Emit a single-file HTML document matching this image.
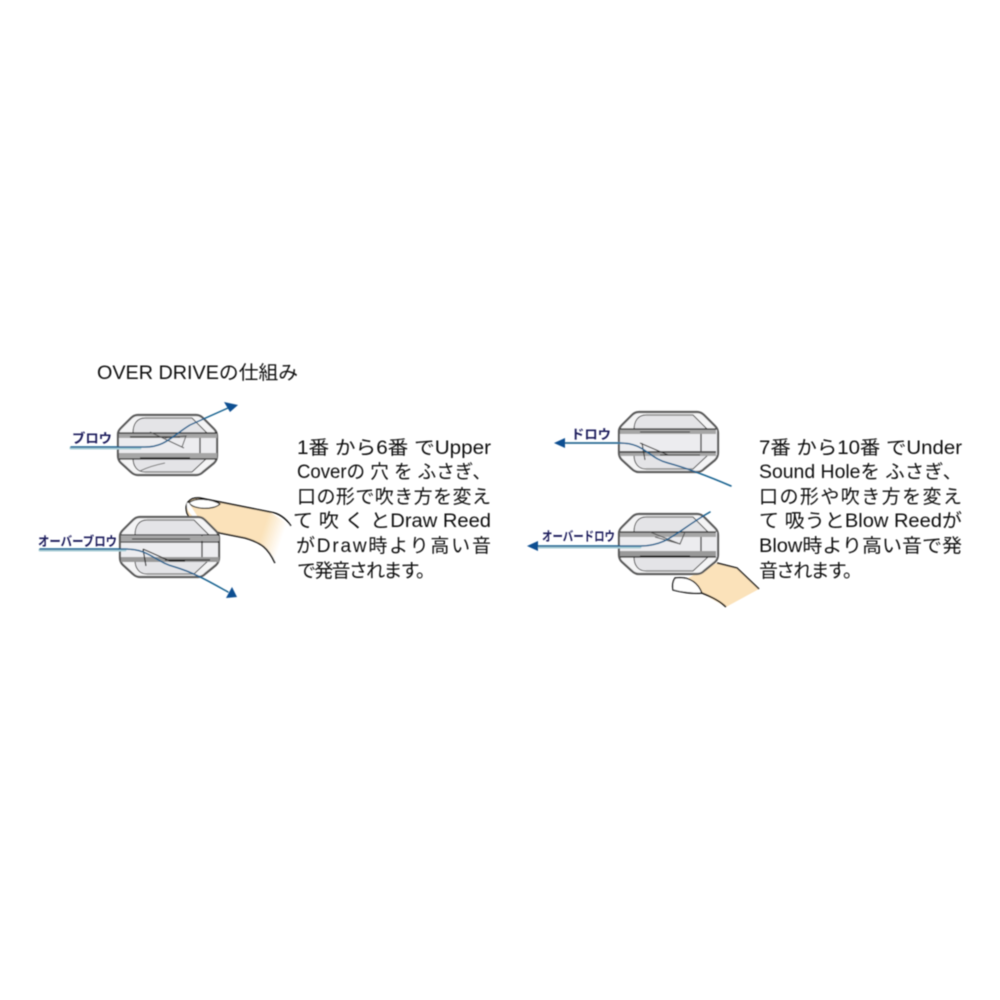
<!DOCTYPE html>
<html><head><meta charset="utf-8"><style>
html,body{margin:0;padding:0;background:#fff;width:1000px;height:1000px;overflow:hidden}
svg{display:block}
text{font-family:"Liberation Sans","Noto Sans CJK JP",sans-serif}
</style></head><body>
<svg width="1000" height="1000" viewBox="0 0 1000 1000" xmlns="http://www.w3.org/2000/svg">
<defs>
<filter id="b" x="-5%" y="-5%" width="110%" height="110%"><feGaussianBlur stdDeviation="0.4"/></filter>
<linearGradient id="f1" x1="0" x2="1" y1="0" y2="0.2"><stop offset="0" stop-color="#fbe2ba"/><stop offset="0.8" stop-color="#fbe2ba"/><stop offset="1" stop-color="#fff"/></linearGradient>
<g id="h">
<path d="M20 1H78Q82 1 85 4L96 15Q99 18 99 22V42Q99 46 96 49L85 58Q82 61 78 61H20Q16 61 13 58L3 49Q0 46 0 42V20Q0 17 3 14L13 4Q16 1 20 1Z" fill="#f4f4f5" stroke="#5a5a5a" stroke-width="2.2"/>
<path d="M15 19C15 10 19 4 27 4H74L89 19Z" fill="#e4e4e7" stroke="#444" stroke-width="1"/>
<path d="M15 44C15 52 19 58 27 58H74L89 44Z" fill="#e4e4e7" stroke="#444" stroke-width="1"/>
<path d="M27 4H74M27 58H74" stroke="#888" stroke-width="1.5" fill="none"/>
<rect x="1" y="19" width="97" height="25" fill="#ececef"/>
<path d="M82 19V44" stroke="#333" stroke-width="1.3" fill="none"/>
</g>
</defs>
<g filter="url(#b)">
<text x="97" y="379" font-size="19" fill="#111" textLength="201" lengthAdjust="spacingAndGlyphs">OVER DRIVEの仕組み</text>

<!-- Finger 1 -->
<path d="M187 513C184 503 190 497 200 498L270 512L291 526L275 563C268 548 262 543 245 538L220 533L190 521Z" fill="url(#f1)"/>
<path d="M291 526C285 517 278 513 270 512L200 498C190 497 184 503 187 513C190 522 200 527 220 533L245 538C262 543 268 548 275 563" fill="none" stroke="#111" stroke-width="1.5"/>
<path d="M189 503C195 497 212 499 220 504C214 510 194 510 189 503Z" fill="#fff" stroke="#111" stroke-width="1.2"/>
<path d="M187 503C186 510 190 516 200 520C196 514 192 508 189 503Z" fill="#fff"/>

<!-- Finger 2 -->
<path d="M717 563L737 568L759 589L726 607L702 593L688 578Z" fill="#fbe2ba"/>
<path d="M717 563L737 568L759 589" fill="none" stroke="#111" stroke-width="1.5"/>
<path d="M675 578C690 576 698 583 702 593C692 594 680 592 673 590C672 585 673 581 675 578Z" fill="#fff" stroke="#111" stroke-width="1.4"/>
<path d="M702 593C712 597 720 601 726 607" fill="none" stroke="#111" stroke-width="1.5"/>

<!-- Harmonica 1 -->
<use href="#h" x="118" y="414"/>
<rect x="119" y="433" width="98" height="5" fill="#a6a6a6"/>
<rect x="119" y="453" width="98" height="6" fill="#a6a6a6"/>
<path d="M119 433H217" stroke="#111" stroke-width="1.3"/>
<path d="M119 459H217M130 437H180M140 458H190" stroke="#222" stroke-width="1.2"/>
<path d="M150 432L184 448M165 438L186 436L182 447" fill="none" stroke="#555" stroke-width="1"/>
<path d="M140 471Q150 466 165 463" fill="none" stroke="#777" stroke-width="1"/>
<!-- Harmonica 2 -->
<use href="#h" x="120" y="516"/>
<rect x="121" y="536" width="98" height="5" fill="#a6a6a6"/>
<rect x="121" y="557" width="98" height="5" fill="#999"/>
<path d="M121 535H219M121 542H219" stroke="#111" stroke-width="1.2"/>
<path d="M132 539H190" stroke="#222" stroke-width="1"/>
<path d="M143 549L170 561H185M143 549L146 566M165 560H210" fill="none" stroke="#222" stroke-width="1.2"/>
<!-- Harmonica 3 -->
<use href="#h" x="619" y="411"/>
<rect x="620" y="429" width="96" height="5" fill="#a6a6a6"/>
<rect x="620" y="451" width="96" height="5" fill="#a6a6a6"/>
<path d="M620 429H716M620 452H716" stroke="#111" stroke-width="1.2"/>
<path d="M640 432H690" stroke="#222" stroke-width="1.1"/>
<path d="M640 443L668 455H680M642 443L645 460M660 455H700" fill="none" stroke="#333" stroke-width="1.1"/>
<!-- Harmonica 4 -->
<use href="#h" x="619" y="513"/>
<rect x="620" y="532" width="96" height="5" fill="#a6a6a6"/>
<rect x="620" y="551" width="96" height="6" fill="#999"/>
<path d="M620 532H716M620 557H716" stroke="#111" stroke-width="1.2"/>
<path d="M640 556H690" stroke="#222" stroke-width="1.1"/>
<path d="M650 532L680 544L685 532M655 537L680 544" fill="none" stroke="#555" stroke-width="1.1"/>

<!-- Flow lines -->
<g fill="none" stroke-linecap="round">
<path d="M71 448H140" stroke="#a8cdd6" stroke-width="3"/>
<path d="M71 447H145C165 447 172 436 190 425L228 408" stroke="#16618f" stroke-width="1.5"/>
<path d="M40 550H125" stroke="#a8cdd6" stroke-width="3"/>
<path d="M40 549H125C150 549 155 562 175 567C195 573 210 582 228 592" stroke="#16618f" stroke-width="1.5"/>
<path d="M560 443H620" stroke="#a8cdd6" stroke-width="2"/>
<path d="M560 443H620C645 443 648 458 668 463C690 469 710 477 731 486" stroke="#16618f" stroke-width="1.5"/>
<path d="M535 547H640" stroke="#a8cdd6" stroke-width="3"/>
<path d="M535 546H640C668 546 675 532 710 512" stroke="#16618f" stroke-width="1.5"/>
</g>
<path d="M238 405L224 402L230 412Z" fill="#0f4f92"/>
<path d="M237 597L226 598L232 587Z" fill="#0f4f92"/>
<path d="M554 443L565 438L565 448Z" fill="#0f4f92"/>
<path d="M527 546L538 541L538 551Z" fill="#0f4f92"/>

<!-- Labels -->
<g font-weight="bold" fill="#1b1b5c" font-size="13">
<text x="72" y="443" textLength="40" lengthAdjust="spacingAndGlyphs">ブロウ</text>
<text x="38" y="546" textLength="79" lengthAdjust="spacingAndGlyphs">オーバーブロウ</text>
<text x="571" y="439" textLength="40" lengthAdjust="spacingAndGlyphs">ドロウ</text>
<text x="542" y="541" textLength="73" lengthAdjust="spacingAndGlyphs">オーバードロウ</text>
</g>

<!-- Left text -->
<g font-size="19" fill="#111">
<text x="297" y="454" textLength="194" lengthAdjust="spacingAndGlyphs">1番 から6番 でUpper</text>
<text x="297" y="478" textLength="194" lengthAdjust="spacingAndGlyphs">Coverの 穴 を ふさぎ、</text>
<text x="297" y="503" textLength="194">口の形で吹き方を変え</text>
<text x="293" y="527" textLength="198" lengthAdjust="spacingAndGlyphs">て 吹 く とDraw Reed</text>
<text x="296" y="552" textLength="195">がDraw時より高い音</text>
<text x="297" y="577" textLength="138">で発音されます。</text>
</g>
<!-- Right text -->
<g font-size="19" fill="#111">
<text x="759" y="454" textLength="203" lengthAdjust="spacingAndGlyphs">7番 から10番 でUnder</text>
<text x="759" y="478" textLength="203" lengthAdjust="spacingAndGlyphs">Sound Holeを ふさぎ、</text>
<text x="759" y="503" textLength="203">口の形や吹き方を変え</text>
<text x="759" y="527" textLength="203" lengthAdjust="spacingAndGlyphs">て 吸うとBlow Reedが</text>
<text x="759" y="552" textLength="203" lengthAdjust="spacingAndGlyphs">Blow時より高い音で発</text>
<text x="759" y="577" textLength="103">音されます。</text>
</g>
</g>
</svg>
</body></html>
